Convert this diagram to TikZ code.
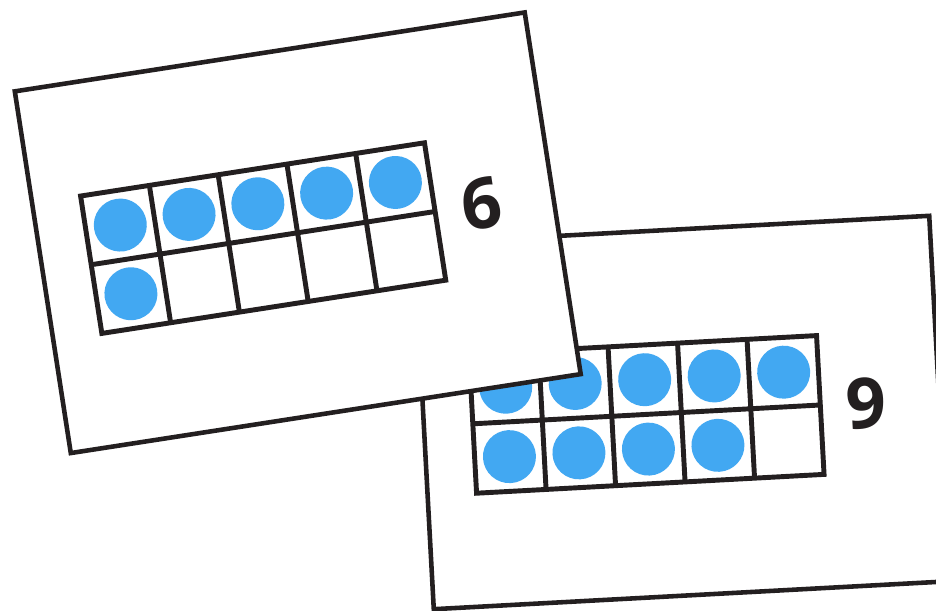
\documentclass[tikz,border=0pt]{standalone}
\usepackage{fontspec}
\usepackage{tikz}
\newfontfamily\cardfont{Open Sans}
\definecolor{dotblue}{RGB}{66,168,242}
\definecolor{inkblack}{RGB}{35,31,32}
\tikzset{
  card/.style={draw=inkblack, fill=white, line width=2.6pt},
  frameline/.style={draw=inkblack, line width=2.8pt},
  counter/.style={fill=dotblue},
  cardnum/.style={font=\cardfont\bfseries\fontsize{40}{40}\selectfont, text=inkblack, inner sep=0pt, transform shape}
}

\begin{document}
\begin{tikzpicture}[x=0.02cm, y=0.02cm]
\useasboundingbox (0,0) rectangle (936,610);
\clip (0,0) rectangle (936,610);

% Back card: nine counters
\begin{scope}[shift={(681.5,197.5)}, rotate=3.1]
    \draw[card] (-258,-183) rectangle (258,183);
    \foreach \c in {0,...,4} \fill[counter] (-174.2+69.6*\c,34.75) circle (26.5);
    \foreach \c in {0,...,3} \fill[counter] (-174.2+69.6*\c,-34.75) circle (26.5);
    \draw[frameline] (-209,-69.5) rectangle (139,69.5);
    \draw[frameline] (-209,0) -- (139,0);
    \foreach \c in {1,...,4} \draw[frameline] (-209+69.6*\c,-69.5) -- ++(0,139);
    \node[cardnum] (nine) at (185,-1) {9};
\end{scope}

% Front card: six counters
\begin{scope}[shift={(297.75,377.25)}, rotate=8.8]
    \draw[card] (-258,-183) rectangle (258,183);
    \foreach \c in {0,...,4} \fill[counter] (-174.2+69.6*\c,34.75) circle (26.5);
    \fill[counter] (-174.2,-34.75) circle (26.5);
    \draw[frameline] (-209,-69.5) rectangle (139,69.5);
    \draw[frameline] (-209,0) -- (139,0);
    \foreach \c in {1,...,4} \draw[frameline] (-209+69.6*\c,-69.5) -- ++(0,139);
    \node[cardnum] (six) at (186,1) {6};
\end{scope}
\end{tikzpicture}
\end{document}
